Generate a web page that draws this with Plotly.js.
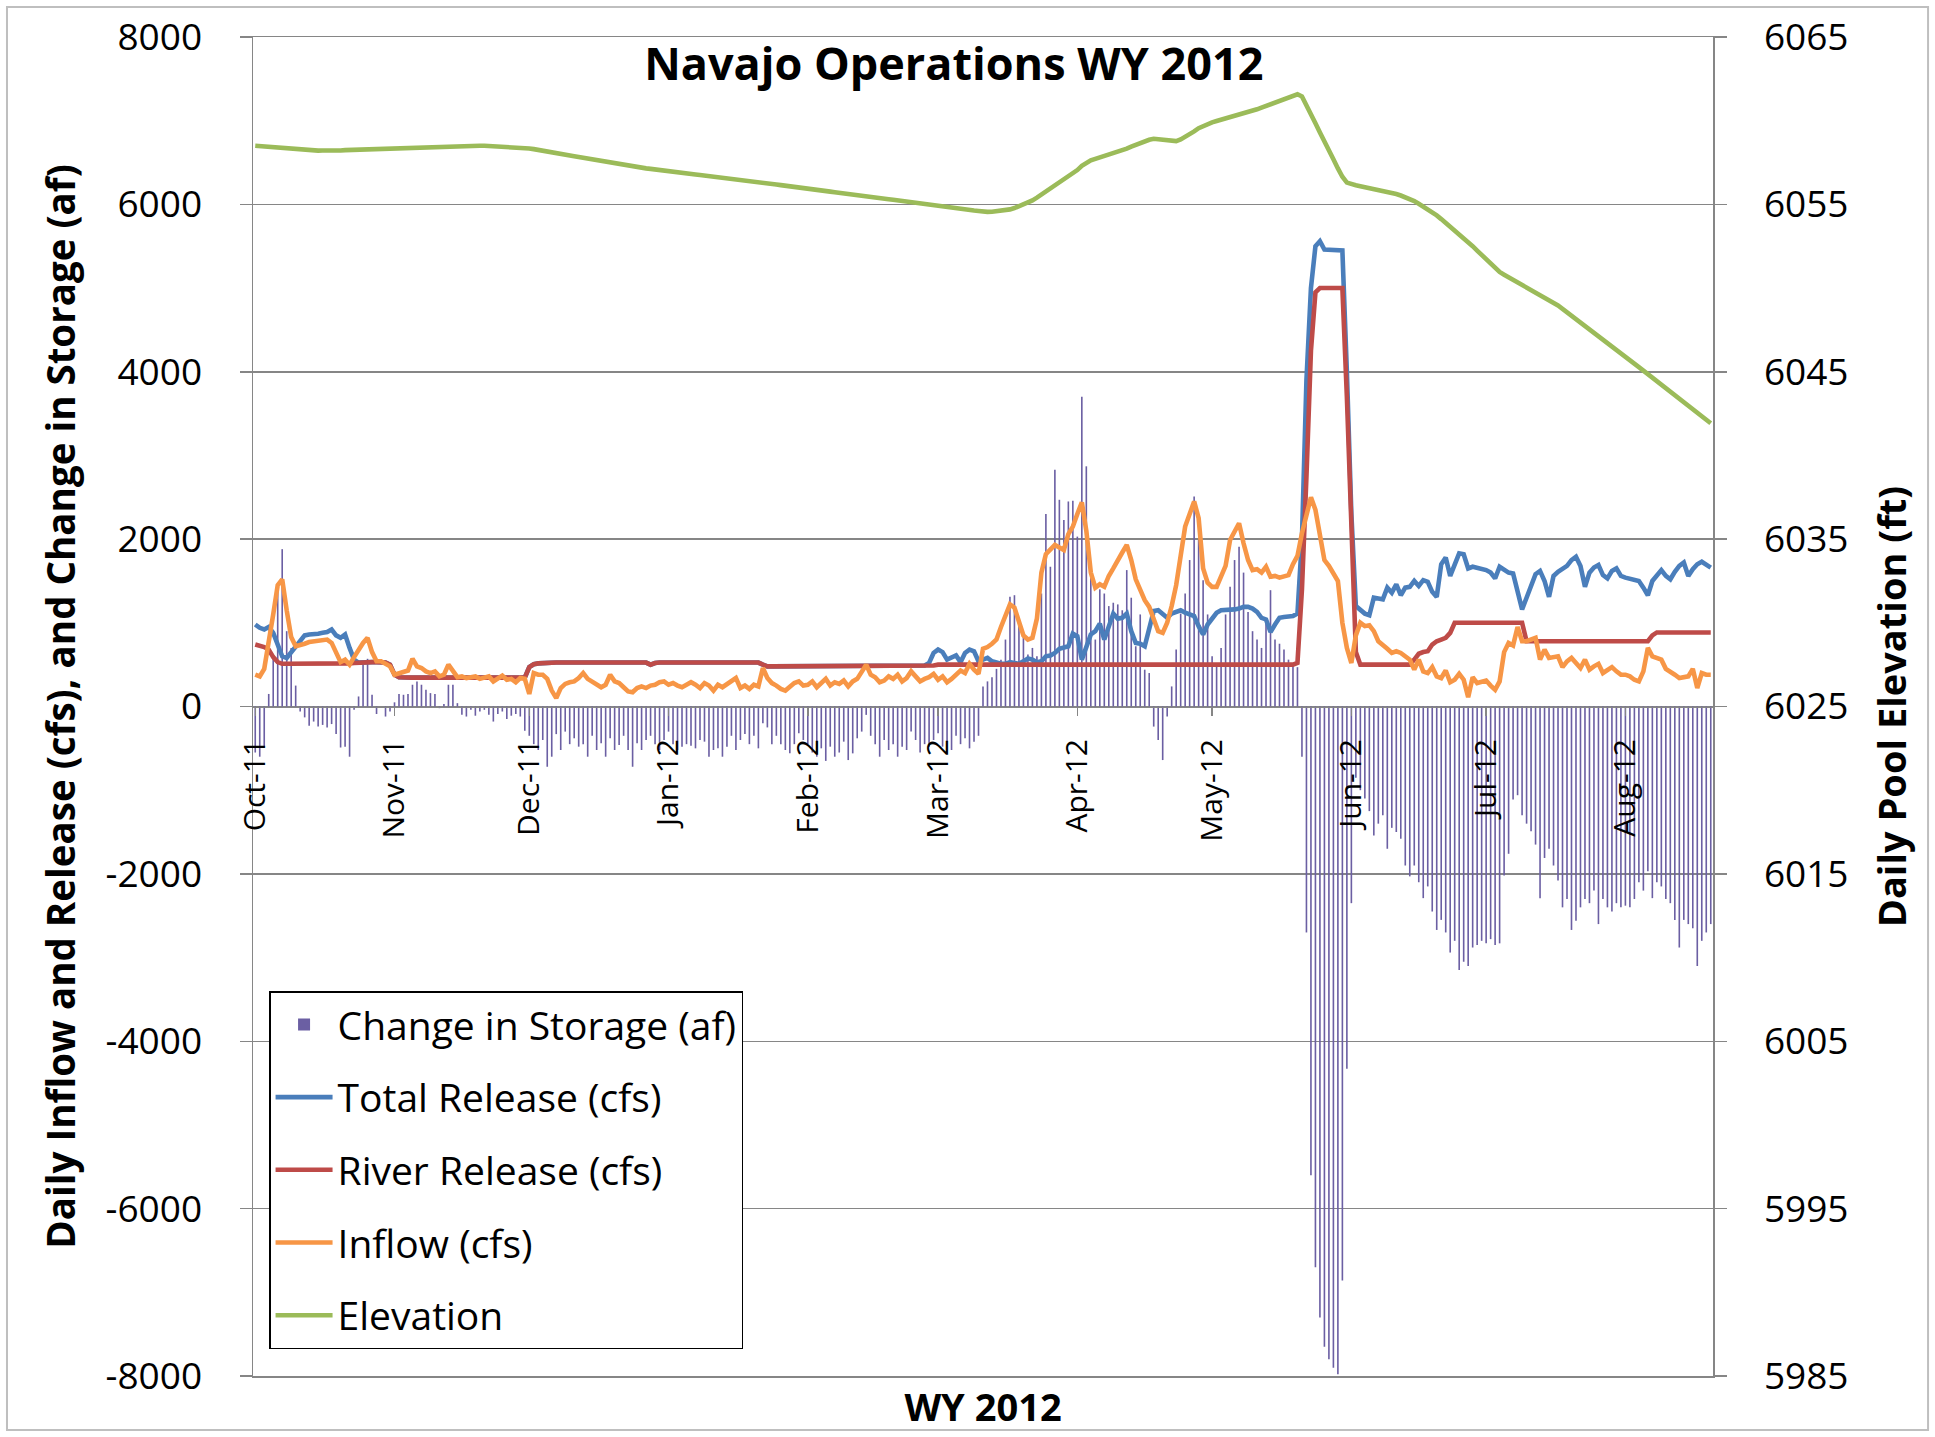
<!DOCTYPE html>
<html>
<head>
<meta charset="utf-8">
<script src="https://cdn.plot.ly/plotly-3.0.1.min.js"></script>
<style>html,body{margin:0;padding:0;background:#fff;}#chart{width:1935px;height:1437px;}</style>
</head>
<body>
<div id="chart"></div>
<script>
// ---- data (daily, 1 Oct 2011 .. 20 Aug 2012) ----
const startDay = '2011-10-01';

const changeInStorage = [
  -550,-600,-480,150,600,1450,1880,900,700,250,-60,-130,-230,-180,-240,-220,-250,-210,-330,-490,-480,-600,-40,120,530,570,140,-90,0,-120,-60,
  50,150,140,150,260,300,260,200,160,150,-20,30,260,260,40,-100,-120,-40,-110,-60,-40,-100,-180,-90,-60,-150,-110,-90,-120,-290,
  -350,-450,-520,-400,-720,-600,-330,-520,-300,-450,-380,-480,-450,-600,-350,-520,-440,-600,-380,-520,-460,-350,-520,-720,-440,-520,-400,-350,-450,-520,-400,
  -300,-450,-520,-480,-450,-470,-500,-400,-420,-600,-520,-500,-600,-480,-350,-520,-400,-330,-450,-350,-500,-200,-250,-450,-350,-450,-520,-560,-450,-320,-400,
  -450,-550,-600,-500,-650,-480,-600,-550,-420,-640,-560,-380,-300,-100,-350,-450,-600,-400,-520,-450,-600,-480,-520,-300,-400,-550,-450,-480,-400,
  -320,-480,-420,-520,-350,-450,-380,-500,-420,-350,240,300,350,450,560,800,1310,1330,1050,880,620,700,600,1350,2300,1670,2830,2470,2230,2450,2460,
  2030,3700,2870,1600,800,1400,1350,1200,1240,1220,1150,1630,1300,720,1100,440,400,-240,-400,-640,-120,240,680,1110,1350,1750,2510,1990,1510,1100,
  600,520,700,1100,1430,1750,1910,1600,1130,900,800,700,1000,1390,800,750,680,560,480,470,-600,-2700,-5600,-6700,-7300,-7650,-7800,-7900,-7980,-6860,-4330,
  -2350,-850,-1000,-1100,-1250,-1540,-1400,-1300,-1700,-1450,-1500,-1580,-1900,-2030,-1900,-2100,-2290,-2150,-2450,-2670,-2550,-2700,-2940,-2800,-3150,-3050,-3100,-2880,-2850,-2800,
  -2830,-2780,-2850,-2830,-2020,-1760,-1110,-1060,-1300,-1400,-1490,-1650,-2290,-1810,-1700,-1900,-2080,-2400,-2300,-2670,-2560,-2400,-2300,-2350,-2200,-2600,-2300,-2400,-2450,-2350,-2400,
  -2380,-2400,-2300,-2100,-2200,-1970,-2290,-2100,-2150,-2300,-2350,-2550,-2880,-2550,-2600,-2650,-3100,-2800,-2700,-2600
];

const totalRelease = [
  980,940,920,950,880,740,600,580,650,720,790,850,860,860,870,880,890,920,850,820,860,700,560,525,530,530,530,530,530,525,500,
  380,350,345,345,345,345,345,345,345,345,345,345,345,345,345,345,345,345,345,345,345,345,345,345,345,345,345,345,345,345,
  470,505,515,520,525,525,525,525,525,525,525,525,525,525,525,525,525,525,525,525,525,525,525,525,525,525,525,500,520,525,525,
  525,525,525,525,525,525,525,525,525,525,525,525,525,525,525,525,525,525,525,525,525,500,480,480,480,480,480,480,480,480,480,
  480,480,480,480,480,480,480,480,480,480,480,480,480,480,480,480,480,480,480,480,490,490,490,490,490,490,490,520,640,
  680,650,560,580,610,530,640,680,660,540,560,580,540,520,510,510,530,520,510,540,575,560,530,540,600,610,640,690,710,720,870,
  840,560,700,860,900,990,800,950,1110,1050,1060,1110,900,760,750,720,950,1140,1150,1110,1060,1110,1130,1150,1120,1100,1080,960,860,980,
  1050,1120,1150,1150,1160,1160,1170,1190,1190,1170,1130,1060,1040,890,980,1060,1070,1075,1080,1110,2000,3900,5000,5500,5560,5460,5460,5460,5460,5450,4000,
  2300,1200,1150,1110,1090,1300,1290,1280,1420,1360,1460,1330,1420,1430,1500,1440,1510,1490,1370,1310,1700,1780,1560,1680,1830,1820,1650,1670,1660,1650,
  1630,1600,1530,1670,1640,1600,1590,1400,1160,1300,1460,1580,1620,1500,1310,1560,1610,1640,1680,1750,1790,1680,1430,1600,1660,1690,1570,1530,1620,1650,1560,
  1540,1530,1520,1500,1420,1330,1500,1560,1630,1560,1520,1610,1680,1720,1560,1640,1700,1730,1690,1660
];

const riverRelease = [
  740,730,710,680,590,530,510,510,510,510,510,510,510,505,505,505,505,505,505,505,510,515,520,525,530,530,530,530,530,525,500,
  380,350,345,345,345,345,345,345,345,345,345,345,345,345,345,345,345,345,345,345,345,345,345,345,345,345,345,345,345,345,
  470,505,515,520,525,525,525,525,525,525,525,525,525,525,525,525,525,525,525,525,525,525,525,525,525,525,525,500,520,525,525,
  525,525,525,525,525,525,525,525,525,525,525,525,525,525,525,525,525,525,525,525,525,500,480,480,480,480,480,480,480,480,480,
  480,480,480,480,480,480,480,480,480,480,480,480,480,480,480,480,480,480,480,480,490,490,490,490,490,490,490,490,490,
  500,500,500,500,500,500,500,500,500,500,500,500,500,500,500,500,500,500,500,500,500,500,500,500,500,500,500,500,500,500,500,
  500,500,500,500,500,500,500,500,500,500,500,500,500,500,500,500,500,500,500,500,500,500,500,500,500,500,500,500,500,500,
  500,500,500,500,500,500,500,500,500,500,500,500,500,500,500,500,500,500,500,520,1400,2750,4250,4950,5000,5000,5000,5000,5000,5000,3700,
  2100,650,500,500,500,500,500,500,500,500,500,500,500,500,560,630,650,660,740,780,800,820,880,1000,1000,1000,1000,1000,1000,1000,
  1000,1000,1000,1000,1000,1000,1000,1000,1000,780,780,780,780,780,780,780,780,780,780,780,780,780,780,780,780,780,780,780,780,780,780,
  780,780,780,780,780,780,850,885,885,885,885,885,885,885,885,885,885,885,885,885
];

const inflow = [
  380,360,450,750,1100,1450,1520,1150,830,720,730,750,770,780,790,800,800,760,640,530,560,500,590,680,760,820,650,540,540,510,480,
  380,400,410,430,570,480,460,420,400,420,360,380,500,420,350,360,340,350,360,330,340,360,300,340,370,320,330,290,340,330,
  150,400,380,380,330,190,100,220,270,290,300,340,400,330,300,270,230,260,380,300,280,230,180,170,220,240,220,250,260,290,300,
  260,280,250,230,260,290,260,220,280,250,190,260,230,270,300,340,220,250,210,260,240,460,340,280,250,210,190,230,280,300,250,
  260,300,230,280,330,250,290,270,310,240,300,330,420,500,380,350,290,310,360,330,380,300,340,420,360,300,330,350,390,
  320,360,290,330,380,430,400,510,440,390,690,710,750,800,950,1080,1220,1180,1000,850,800,820,1050,1600,1820,1870,1930,1900,1870,2060,2150,
  2300,2440,2100,1600,1420,1460,1430,1560,1650,1760,1840,1930,1750,1520,1380,1270,1190,1050,900,880,1000,1200,1450,1800,2150,2300,2450,2250,1650,1480,
  1430,1430,1550,1680,1990,2100,2190,1950,1750,1630,1640,1600,1670,1550,1560,1540,1560,1570,1700,1800,2070,2300,2500,2350,2050,1750,1680,1600,1500,1000,700,
  520,850,1000,960,970,900,780,740,690,640,660,640,600,560,440,560,420,400,470,360,340,430,290,320,390,320,110,350,280,300,
  310,250,200,300,650,760,730,950,780,780,800,820,560,680,580,590,600,470,540,580,520,460,560,440,480,510,400,430,470,420,380,
  380,360,320,300,420,700,600,580,560,450,420,380,340,350,360,450,220,400,380,380
];

const elevation = [
  6058.50,6058.48,6058.46,6058.44,6058.42,6058.40,6058.38,6058.34,6058.30,6058.27,6058.24,6058.22,6058.20,6058.20,6058.21,6058.22,6058.21,6058.22,6058.23,6058.22,6058.24,6058.25,6058.25,6058.27,6058.29,6058.30,6058.31,6058.32,6058.33,6058.34,6058.35,
  6058.36,6058.37,6058.38,6058.40,6058.41,6058.42,6058.43,6058.44,6058.45,6058.46,6058.46,6058.47,6058.47,6058.48,6058.48,6058.48,6058.49,6058.49,6058.49,6058.50,6058.50,6058.49,6058.48,6058.47,6058.46,6058.45,6058.43,6058.41,6058.39,6058.37,
  6058.34,6058.30,6058.26,6058.21,6058.16,6058.12,6058.07,6058.02,6057.98,6057.93,6057.88,6057.83,6057.78,6057.73,6057.68,6057.63,6057.58,6057.53,6057.48,6057.43,6057.38,6057.33,6057.29,6057.25,6057.21,6057.18,6057.15,6057.12,6057.08,6057.04,6057.00,
  6056.96,6056.93,6056.90,6056.87,6056.84,6056.81,6056.78,6056.75,6056.72,6056.69,6056.66,6056.63,6056.60,6056.57,6056.55,6056.53,6056.50,6056.47,6056.43,6056.39,6056.35,6056.31,6056.27,6056.23,6056.19,6056.15,6056.12,6056.09,6056.06,6056.03,6056.00,
  6055.96,6055.92,6055.88,6055.84,6055.80,6055.76,6055.72,6055.68,6055.64,6055.61,6055.58,6055.55,6055.52,6055.48,6055.45,6055.42,6055.38,6055.35,6055.31,6055.28,6055.24,6055.21,6055.17,6055.14,6055.10,6055.06,6055.02,6054.98,6054.94,
  6054.90,6054.86,6054.82,6054.78,6054.75,6054.72,6054.69,6054.66,6054.63,6054.60,6054.56,6054.55,6054.56,6054.58,6054.60,6054.64,6054.70,6054.78,6054.88,6054.98,6055.10,6055.24,6055.40,6055.58,6055.76,6055.95,6056.14,6056.30,6056.47,6056.62,6056.80,
  6057.05,6057.30,6057.50,6057.63,6057.72,6057.80,6057.88,6057.95,6058.03,6058.12,6058.23,6058.33,6058.45,6058.56,6058.68,6058.78,6058.86,6058.92,6058.90,6058.85,6058.80,6058.77,6058.78,6058.88,6059.02,6059.18,6059.36,6059.55,6059.68,6059.80,
  6059.90,6059.98,6060.05,6060.12,6060.20,6060.28,6060.36,6060.44,6060.52,6060.60,6060.68,6060.78,6060.88,6060.98,6061.10,6061.20,6061.30,6061.40,6061.48,6061.58,6061.45,6060.95,6060.40,6059.85,6059.30,6058.80,6058.25,6057.70,6057.15,6056.65,6056.30,
  6056.20,6056.14,6056.09,6056.04,6055.99,6055.94,6055.89,6055.84,6055.77,6055.70,6055.62,6055.53,6055.44,6055.34,6055.20,6055.04,6054.88,6054.70,6054.52,6054.34,6054.12,6053.90,6053.67,6053.44,6053.21,6052.98,6052.75,6052.50,6052.24,6051.98,
  6051.72,6051.46,6051.20,6050.96,6050.80,6050.65,6050.50,6050.35,6050.20,6050.05,6049.92,6049.76,6049.60,6049.44,6049.28,6049.12,6048.96,6048.76,6048.56,6048.36,6048.16,6047.96,6047.76,6047.56,6047.36,6047.16,6046.96,6046.76,6046.55,6046.34,6046.13,
  6045.92,6045.71,6045.50,6045.28,6045.07,6044.86,6044.65,6044.44,6044.23,6044.02,6043.81,6043.60,6043.39,6043.18,6042.97,6042.76,6042.55,6042.34,6042.13,6041.92
];

const monthTicks = ['2011-10-01','2011-11-01','2011-12-01','2012-01-01','2012-02-01','2012-03-01','2012-04-01','2012-05-01','2012-06-01','2012-07-01','2012-08-01'];
const monthLabels = ['Oct-11','Nov-11','Dec-11','Jan-12','Feb-12','Mar-12','Apr-12','May-12','Jun-12','Jul-12','Aug-12'];
const leftTicks = [-8000,-6000,-4000,-2000,0,2000,4000,6000,8000];
const leftTickText = ['-8000','-6000','-4000','-2000','0','2000','4000','6000','8000'];
const rightTicks = [5985,5995,6005,6015,6025,6035,6045,6055,6065];
const xRange = ['2011-09-30 12:00','2012-08-20 12:00'];

// ---- build day list ----
const DAY = 86400000;
const t0 = Date.parse(startDay + 'T00:00:00Z');
const dates = changeInStorage.map((_, i) => new Date(t0 + i * DAY).toISOString().slice(0, 10));

const FONT = 'Open Sans, Noto Sans, sans-serif';
const GRID = '#868686';
const LW = 4.6;

const traces = [
  {type:'bar', name:'Change in Storage (af)', x:dates, y:changeInStorage, width:0.36*DAY,
   marker:{color:'#6B5FA3', line:{width:0}}, legendgroup:'g1', hoverinfo:'x+y'},
  {type:'scatter', mode:'lines', name:'Total Release (cfs)', x:dates, y:totalRelease,
   line:{color:'#4A7EBB', width:LW}, legendgroup:'g2'},
  {type:'scatter', mode:'lines', name:'River Release (cfs)', x:dates, y:riverRelease,
   line:{color:'#BE4B48', width:LW}, legendgroup:'g3'},
  {type:'scatter', mode:'lines', name:'Inflow (cfs)', x:dates, y:inflow,
   line:{color:'#F79646', width:LW}, legendgroup:'g4'},
  {type:'scatter', mode:'lines', name:'Elevation', x:dates, y:elevation, yaxis:'y2',
   line:{color:'#9BBB59', width:LW}, legendgroup:'g5'},
  {type:'scatter', mode:'lines', x:[], y:[], xaxis:'x2', yaxis:'y', showlegend:false, hoverinfo:'skip'}
];

const layout = {
  width:1935, height:1437,
  margin:{l:253, r:222, t:37, b:61, pad:0},
  paper_bgcolor:'#ffffff', plot_bgcolor:'#ffffff',
  font:{family:FONT, color:'#000000'},
  title:{text:'Navajo Operations WY 2012', x:0.480, xref:'paper', xanchor:'center',
         y:0.9798, yref:'paper', yanchor:'middle', font:{size:45, weight:'bold', family:FONT, color:'#000'}},
  showlegend:true,
  legend:{x:0.011, y:0.2875, xanchor:'left', yanchor:'top', bgcolor:'#ffffff', bordercolor:'#000000', borderwidth:1.5,
          font:{size:39, family:FONT, color:'#000'}, traceorder:'grouped', tracegroupgap:19, itemwidth:57},
  xaxis:{type:'date', range:xRange, anchor:'free', position:0.5,
         tickmode:'array', tickvals:monthTicks, ticktext:monthLabels, tickangle:-90,
         ticks:'outside', ticklen:8, tickwidth:1.5, tickcolor:GRID, ticklabelstandoff:11,
         tickfont:{size:30, family:FONT, color:'#000'},
         showline:true, linecolor:GRID, linewidth:1.5, showgrid:false, zeroline:false, automargin:false},
  xaxis2:{type:'date', range:xRange, overlaying:'x', anchor:'y', side:'bottom',
          showticklabels:false, ticks:'', showline:true, mirror:true, linecolor:GRID, linewidth:1.5,
          showgrid:false, zeroline:false, automargin:false,
          title:{text:'WY 2012', standoff:18, font:{size:38, weight:'bold', family:FONT, color:'#000'}}},
  yaxis:{range:[-8000,8000], tickmode:'array', tickvals:leftTicks, ticktext:leftTickText,
         ticks:'outside', ticklen:12, tickwidth:1.5, tickcolor:GRID, ticklabelstandoff:30,
         tickfont:{size:37, family:FONT, color:'#000'},
         showline:true, linecolor:GRID, linewidth:1.5, showgrid:true, gridcolor:GRID, gridwidth:1.5,
         zeroline:false, automargin:false,
         title:{text:'Daily Inflow and Release (cfs), and Change in Storage (af)', standoff:18,
                font:{size:38.5, weight:'bold', family:FONT, color:'#000'}}},
  yaxis2:{range:[5985,6065], overlaying:'y', side:'right', anchor:'x', tickmode:'array', tickvals:rightTicks,
          ticks:'outside', ticklen:12, tickwidth:1.5, tickcolor:GRID, ticklabelstandoff:30,
          tickfont:{size:37, family:FONT, color:'#000'},
          showline:true, linecolor:GRID, linewidth:1.5, showgrid:false, zeroline:false, automargin:false,
          title:{text:'Daily Pool Elevation (ft)', standoff:32,
                 font:{size:38, weight:'bold', family:FONT, color:'#000'}}},
  shapes:[
    {type:'rect', xref:'paper', yref:'paper', x0:-0.1685, x1:1.1473, y0:-0.0403, y1:1.0224,
     line:{color:'#BFBFBF', width:2}, fillcolor:'rgba(0,0,0,0)', layer:'below'}
  ]
};

Plotly.newPlot('chart', traces, layout, {staticPlot:true, displayModeBar:false});
</script>
</body>
</html>
